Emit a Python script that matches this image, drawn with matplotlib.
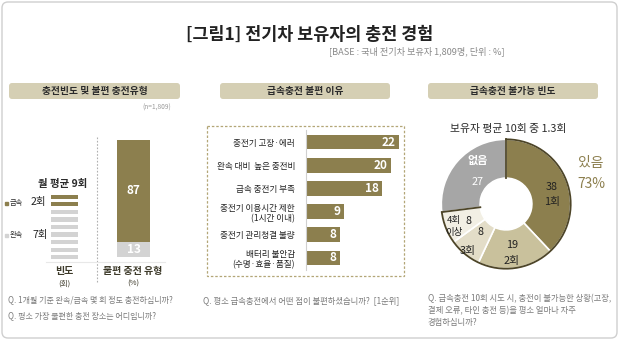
import numpy as np
import matplotlib
matplotlib.use('Agg')
import matplotlib.pyplot as plt
from matplotlib.patches import FancyBboxPatch, Rectangle

plt.rcParams['font.family'] = ['Noto Sans CJK KR', 'DejaVu Sans']

W, H = 620, 342
GOLD = '#8c7f4e'
LGRAY = '#d3d3d3'
DARK = '#2b2b2b'
QGRAY = '#7a7a7a'

# ---------------- data ----------------
freq_types = ['급속', '완속']
freq_counts = [2, 7]            # monthly average charges (회)
incon_types = ['급속', '완속']
incon_share = [87, 13]          # inconvenient charging type (%)

reasons = ['충전기 고장·에러', '완속 대비  높은 충전비', '급속 충전기 부족',
           '충전기 이용시간 제한\n(1시간 이내)', '충전기 관리청결 불량',
           '배터리 불안감\n(수명·효율·품질)']
reason_vals = [22, 20, 18, 9, 8, 8]

fail_labels = ['1회', '2회', '3회', '4회\n이상', '없음']
fail_vals = [38, 19, 8, 8, 27]
fail_colors = ['#8c7f4e', '#c9c19c', '#e3ddc8', '#f2efe4', '#a6a6a6']

fig = plt.figure(figsize=(6.2, 3.42), dpi=100)
fig.patch.set_facecolor('white')


def px_axes(x0, y0, x1, y1, **kw):
    return fig.add_axes([x0 / W, 1 - y1 / H, (x1 - x0) / W, (y1 - y0) / H], **kw)


# ---------- left: stripes (monthly frequency) ----------
ax1 = px_axes(51, 193, 78, 261)
total = sum(freq_counts)
stripe_colors = [GOLD] * freq_counts[0] + [LGRAY] * freq_counts[1]
ax1.barh(np.arange(total), [1] * total, height=0.55, color=stripe_colors)
ax1.set_xlim(0, 1)
ax1.set_ylim(total - 0.5, -0.5)
ax1.axis('off')

# ---------- left: stacked bar (inconvenient type) ----------
ax2 = px_axes(117, 140, 150, 257)
ax2.bar([0], [incon_share[1]], width=1, color=LGRAY)
ax2.bar([0], [incon_share[0]], width=1, bottom=incon_share[1], color=GOLD)
ax2.set_xlim(-0.5, 0.5)
ax2.set_ylim(0, 100)
ax2.axis('off')
ax2.text(0, incon_share[1] + incon_share[0] / 2, str(incon_share[0]), ha='center', va='center',
         color='white', fontsize=8.5, fontweight='bold')
ax2.text(0, incon_share[1] / 2, str(incon_share[1]), ha='center', va='center',
         color='white', fontsize=8.5, fontweight='bold')

# ---------- middle: horizontal bars ----------
ax3 = px_axes(306, 130.5, 400, 269.5)
ypos = np.arange(len(reasons))
ax3.barh(ypos, reason_vals, height=0.64, color=GOLD)
ax3.set_xlim(0, 22.2)
ax3.set_ylim(len(reasons) - 0.5, -0.5)
for s in ['top', 'right', 'bottom']:
    ax3.spines[s].set_visible(False)
ax3.spines['left'].set_color('#d0d0d0')
ax3.spines['left'].set_linewidth(0.8)
ax3.set_xticks([])
ax3.set_yticks(ypos)
ax3.set_yticklabels(reasons, fontsize=6.2, color='#222222', linespacing=1.2)
ax3.tick_params(axis='y', length=0, pad=8)
ax3.patch.set_alpha(0)
for i, v in enumerate(reason_vals):
    ax3.text(v - 0.8, i, str(v), ha='right', va='center', color='white',
             fontsize=8.5, fontweight='bold')

# ---------- right: donut ----------
ax4 = px_axes(440, 138, 572, 270)
ax4.pie(fail_vals, colors=fail_colors, startangle=90, counterclock=False,
        wedgeprops=dict(width=0.6, edgecolor='white', linewidth=1.2))
ax4.set_xlim(-1.02, 1.02)
ax4.set_ylim(-1.02, 1.02)
ax4.set_aspect('equal')
# outline of the "있음" group
yes_sum = sum(fail_vals[:4])
a0 = np.radians(90)
a1 = np.radians(90 - yes_sum * 3.6)
th = np.linspace(a0, a1, 200)
oc = '#4d4528'
ax4.plot(np.cos(th), np.sin(th), color=oc, lw=1.3, solid_capstyle='round')
for a in (a0, a1):
    ax4.plot([0.4 * np.cos(a), np.cos(a)], [0.4 * np.sin(a), np.sin(a)], color=oc, lw=1.3)

# ---------- overlay (texts & decorations) ----------
ax0 = fig.add_axes([0, 0, 1, 1], zorder=5)
ax0.set_xlim(0, W)
ax0.set_ylim(H, 0)
ax0.axis('off')
ax0.patch.set_alpha(0)

ax0.add_patch(FancyBboxPatch((2, 2), 615, 336, boxstyle='round,pad=0,rounding_size=6',
                             fc='none', ec='#cfcfcf', lw=1))

ax0.text(310, 35, '[그림1] 전기차 보유자의 충전 경험', ha='center', va='center',
         fontsize=12.5, color='#222222', fontweight='bold')
ax0.text(505, 51.5, '[BASE : 국내 전기차 보유자 1,809명, 단위 : %]', ha='right', va='center',
         fontsize=6.6, color='#8a8a8a')

pills = [((9, 83, 171, 16), '충전빈도 및 불편 충전유형'),
         ((220, 83, 170, 16), '급속충전 불편 이유'),
         ((428, 83, 170, 16), '급속충전 불가능 빈도')]
for (x, y, w, h), t in pills:
    ax0.add_patch(FancyBboxPatch((x, y), w, h, boxstyle='round,pad=0,rounding_size=3',
                                 fc='#d5cfb4', ec='none'))
    ax0.text(x + w / 2, y + h / 2, t, ha='center', va='center', fontsize=7,
             fontweight='bold', color='#2b2b2b')

ax0.text(171, 108, '(n=1,809)', ha='right', va='center', fontsize=4.8, color='#9a9a9a')

# left panel decorations
ax0.plot([97, 97], [137, 282], color='#b0b0b0', ls=(0, (1.5, 1.5)), lw=0.8)
ax0.plot([46, 165], [261.5, 261.5], color='#e8e8e8', lw=0.8)

ax0.text(63, 184, '월 평균 9회', ha='center', va='center', fontsize=7.5,
         fontweight='bold', color=DARK)
ax0.add_patch(Rectangle((5, 201.5), 3, 3, color=GOLD))
ax0.text(9.5, 203.5, freq_types[0], ha='left', va='center', fontsize=5.2, color=DARK)
ax0.text(31, 202.5, f'{freq_counts[0]}회', ha='left', va='center', fontsize=7.5, color='#222222')
ax0.add_patch(Rectangle((5, 233.5), 3, 3, color=LGRAY))
ax0.text(9.5, 235, freq_types[1], ha='left', va='center', fontsize=5.2, color=DARK)
ax0.text(32, 235, f'{freq_counts[1]}회', ha='left', va='center', fontsize=7.5, color='#222222')

ax0.text(64, 271, '빈도', ha='center', va='center', fontsize=7.2, fontweight='bold', color='#3d3a2a')
ax0.text(64, 283.5, '(회)', ha='center', va='center', fontsize=5.5, color='#3d3a2a')
ax0.text(133, 271, '불편 충전 유형', ha='center', va='center', fontsize=7.2, fontweight='bold',
         color='#3d3a2a')
ax0.text(133, 283.5, '(%)', ha='center', va='center', fontsize=5.5, color='#3d3a2a')

ax0.text(8, 300, 'Q. 1개월 기준 완속/급속 몇 회 정도 충전하십니까?', ha='left', va='center',
         fontsize=5.8, color=QGRAY)
ax0.text(8, 316, 'Q. 평소 가장 불편한 충전 장소는 어디입니까?', ha='left', va='center',
         fontsize=5.8, color=QGRAY)

# middle panel decorations
ax0.add_patch(Rectangle((207, 126), 197, 150, fc='none', ec='#b3a677',
                        ls=(0, (2, 1.5)), lw=0.9))
ax0.text(203, 301, 'Q. 평소 급속충전에서 어떤 점이 불편하셨습니까?  [1순위]', ha='left',
         va='center', fontsize=6.0, color=QGRAY)

# right panel texts
ax0.text(508, 129, '보유자 평균 10회 중 1.3회', ha='center', va='center', fontsize=7.8,
         color='#2b2b2b')
ax0.text(591, 163, '있음', ha='center', va='center', fontsize=10, color=GOLD)
ax0.text(591, 184, f'{yes_sum}%', ha='center', va='center', fontsize=10, color=GOLD)

ax0.text(552, 187, str(fail_vals[0]), ha='center', va='center', fontsize=7.8, color='#222222')
ax0.text(552, 202, fail_labels[0], ha='center', va='center', fontsize=7.8, color='#222222')
ax0.text(512, 245, str(fail_vals[1]), ha='center', va='center', fontsize=7.8, color='#222222')
ax0.text(512, 261, fail_labels[1], ha='center', va='center', fontsize=7.8, color='#222222')
ax0.text(481, 232, str(fail_vals[2]), ha='center', va='center', fontsize=7.8, color='#222222')
ax0.text(468, 251, fail_labels[2], ha='center', va='center', fontsize=7.8, color='#222222')
ax0.text(454, 220.5, '4회', ha='center', va='center', fontsize=6.8, color='#222222')
ax0.text(469, 220.5, str(fail_vals[3]), ha='center', va='center', fontsize=7.8, color='#222222')
ax0.text(454, 232.5, '이상', ha='center', va='center', fontsize=6.8, color='#222222')
ax0.text(478, 160, fail_labels[4], ha='center', va='center', fontsize=8, color='white',
         fontweight='bold')
ax0.text(478, 182, str(fail_vals[4]), ha='center', va='center', fontsize=7.8, color='white')

ax0.text(428, 299, 'Q. 급속충전 10회 시도 시, 충전이 불가능한 상황(고장,', ha='left', va='center',
         fontsize=6.0, color=QGRAY)
ax0.text(428, 310.5, '결제 오류, 타인 충전 등)을 평소 얼마나 자주', ha='left', va='center',
         fontsize=6.0, color=QGRAY)
ax0.text(428, 322, '경험하십니까?', ha='left', va='center', fontsize=6.0, color=QGRAY)

fig.savefig('out.png', dpi=100, facecolor='white')
